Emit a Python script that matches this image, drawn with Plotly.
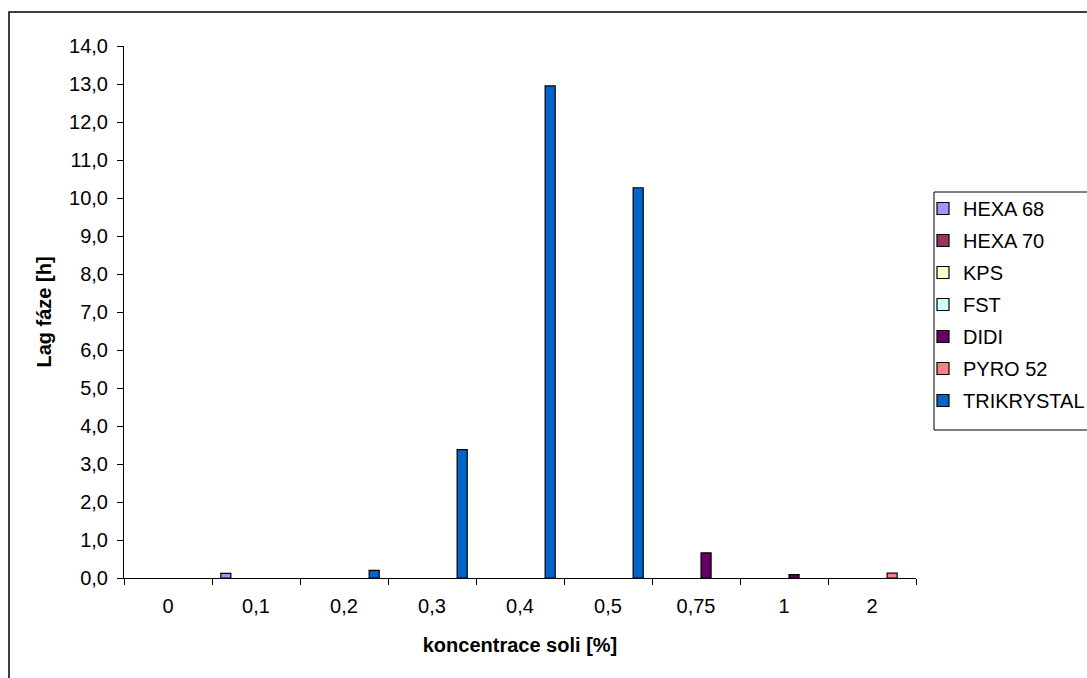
import plotly.graph_objects as go

# Salt concentration categories (x axis)
categories = ["0", "0,1", "0,2", "0,3", "0,4", "0,5", "0,75", "1", "2"]

# Lag phase [h] per culture; None where no value was measured
hexa_68 = [None, 0.12, None, None, None, None, None, None, None]
hexa_70 = [None, None, None, None, None, None, None, None, None]
kps = [None, None, None, None, None, None, None, None, None]
fst = [None, None, None, None, None, None, None, None, None]
didi = [None, None, None, None, None, None, 0.66, 0.09, None]
pyro_52 = [None, None, None, None, None, None, None, None, 0.13]
trikrystal = [None, None, 0.2, 3.38, 12.95, 10.27, None, None, None]

series_names = ["HEXA 68", "HEXA 70", "KPS", "FST", "DIDI", "PYRO 52", "TRIKRYSTAL"]
series_values = [hexa_68, hexa_70, kps, fst, didi, pyro_52, trikrystal]
series_colors = ["#9999FF", "#993366", "#FFFFCC", "#CCFFFF", "#660066", "#FF8080", "#0066CC"]

FONT = "Liberation Sans, Arial, sans-serif"

fig = go.Figure()
for name, vals, col in zip(series_names, series_values, series_colors):
    fig.add_trace(go.Bar(
        x=categories, y=vals, name=name, legendgroup=name,
        marker=dict(color=col, line=dict(color="black", width=1.2)),
    ))

W, H = 1087, 678
L, R, T, B = 124, W - 916, 46, H - 578
pw, ph = W - L - R, H - T - B

def px_x(v):
    return (v - L) / pw

def px_y(v):
    return (H - B - v) / ph

fig.update_layout(
    width=W, height=H,
    margin=dict(l=L, r=R, t=T, b=B, autoexpand=False),
    paper_bgcolor="white", plot_bgcolor="white",
    font=dict(family=FONT, size=20, color="black"),
    separators=", ",
    barmode="group", bargap=0.2, bargroupgap=0,
    showlegend=True,
    legend=dict(
        x=px_x(923), y=px_y(189), xanchor="left", yanchor="top",
        borderwidth=0, bgcolor="rgba(0,0,0,0)",
        font=dict(family=FONT, size=20, color="black"),
        tracegroupgap=3, itemwidth=30,
    ),
    xaxis=dict(
        type="category", showline=True, linecolor="black", linewidth=1,
        ticks="outside", tickson="boundaries", ticklen=6, tickcolor="black",
        ticklabelstandoff=10,
        showgrid=False, zeroline=False,
        title=dict(text="<b>koncentrace soli [%]</b>", standoff=21,
                   font=dict(family=FONT, size=20)),
    ),
    yaxis=dict(
        range=[0, 14], dtick=1, tickformat=".1f",
        showline=True, linecolor="black", linewidth=1,
        ticks="outside", ticklen=6, tickcolor="black",
        ticklabelstandoff=5,
        showgrid=False, zeroline=False,
        title=dict(text="<b>Lag fáze [h]</b>", standoff=12,
                   font=dict(family=FONT, size=20)),
    ),
    shapes=[
        # outer chart frame
        dict(type="rect", xref="paper", yref="paper",
             x0=px_x(9), x1=px_x(W + 20), y0=px_y(H + 20), y1=px_y(12),
             line=dict(color="black", width=1.5), fillcolor="rgba(0,0,0,0)",
             layer="below"),
        # legend frame
        dict(type="rect", xref="paper", yref="paper",
             x0=px_x(934), x1=px_x(W + 20), y0=px_y(430), y1=px_y(192),
             line=dict(color="black", width=1), fillcolor="white",
             layer="below"),
    ],
)

fig.write_html("out.html")
